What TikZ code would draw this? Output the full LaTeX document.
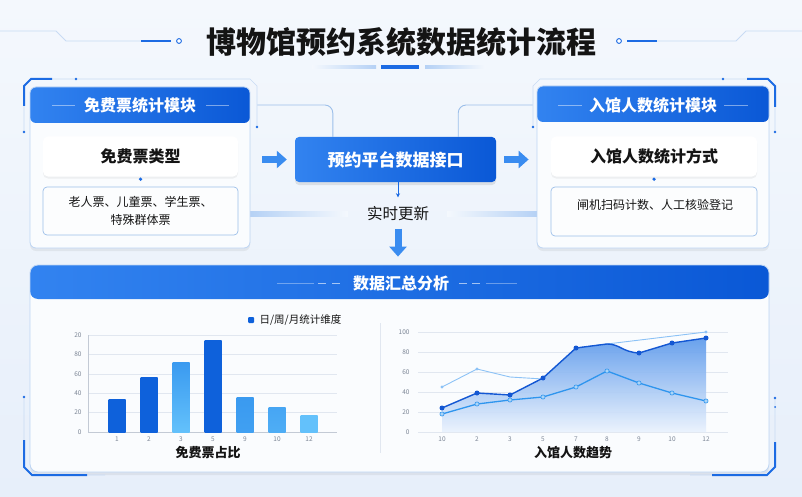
\documentclass[tikz,border=0pt]{standalone}
\usepackage{fontspec}
\setmainfont{Noto Sans CJK SC}
\usetikzlibrary{arrows.meta, positioning, shadows}
\definecolor{bgTop}{HTML}{F4F8FD}
\definecolor{bgBot}{HTML}{E7EFFA}
\definecolor{headL}{HTML}{3283F0}
\definecolor{headR}{HTML}{0A58D6}
\definecolor{frameBlue}{HTML}{BDD5F4}
\definecolor{decoBlue}{HTML}{1C6BE3}
\definecolor{faintBlue}{HTML}{C8DBF4}
\definecolor{bandBlue}{HTML}{B5D1F5}
\definecolor{listBlue}{HTML}{9CBFEA}
\definecolor{arrowBlue}{HTML}{3A8CF0}
\definecolor{inkBlack}{HTML}{141414}
\definecolor{tickGray}{HTML}{7C8696}
\definecolor{gridGray}{HTML}{E1E7F0}
\definecolor{barDark}{HTML}{0E61DB}
\definecolor{barMid}{HTML}{3A9AF0}
\definecolor{barLight}{HTML}{63C1FB}
\definecolor{lineDark}{HTML}{1357D3}
\definecolor{lineMid}{HTML}{2E95EE}
\definecolor{lineLight}{HTML}{8CC2F6}
\definecolor{areaTop}{HTML}{5A98EB}
\definecolor{areaBot}{HTML}{EAF2FD}

\begin{document}
\begin{tikzpicture}[x=1pt, y=-1pt,
  boxhead/.style={path picture={\shade[left color=headL, right color=headR] (path picture bounding box.north west) rectangle ([yshift=-#1]path picture bounding box.north east);}},
  module/.style={draw=frameBlue, line width=0.8pt, fill=white!55!bgTop, rounded corners=6pt, inner sep=0pt, drop shadow={opacity=0.12, shadow xshift=0pt, shadow yshift=-3pt}, boxhead=36pt},
  headtxt/.style={text=white, font=\bfseries\fontsize{16}{20}\selectfont},
  card/.style={fill=white, rounded corners=5pt, inner sep=0pt, drop shadow={opacity=0.10, shadow xshift=0pt, shadow yshift=-2pt}, text=inkBlack, font=\bfseries\fontsize{16}{20}\selectfont},
  listbox/.style={draw=listBlue, line width=0.7pt, fill=white!70!bgTop, rounded corners=4pt, inner sep=0pt, text=inkBlack, align=center, font=\fontsize{12}{18}\selectfont},
  api/.style={rounded corners=4pt, left color=headL, right color=headR, inner sep=0pt, text=white, font=\bfseries\fontsize{17}{20}\selectfont, drop shadow={opacity=0.18, shadow xshift=0pt, shadow yshift=-3pt}},
  link/.style={listBlue, line width=0.9pt, rounded corners=8pt},
  block/.style={-{Triangle[length=10pt, width=17pt]}, line width=7pt, arrowBlue},
  thinarrow/.style={-{Stealth[length=4pt, width=4pt]}, line width=0.8pt, decoBlue},
  frameline/.style={faintBlue, line width=0.6pt},
  bracket/.style={decoBlue, line width=2pt},
  tick/.style={font=\fontsize{6.5}{8}\selectfont, text=tickGray},
  grid/.style={gridGray, line width=0.6pt},
  caption/.style={font=\bfseries\fontsize{13}{16}\selectfont, text=inkBlack}]
\useasboundingbox (0,0) rectangle (802,497);
\shade[top color=bgTop, bottom color=bgBot] (0,0) rectangle (802,497);

% title
\node[font=\bfseries\fontsize{30}{36}\selectfont, text=inkBlack] (title) at (401,42) {博物馆预约系统数据统计流程};
\draw[frameline, line width=0.8pt] (0,31) -- (56,31) -- (66,41) -- (171,41);
\draw[decoBlue, line width=2pt] (141,41) -- (171,41);
\draw[decoBlue, line width=0.9pt, fill=white] (179,41) circle (2.4pt);
\draw[frameline, line width=0.8pt] (802,31) -- (746,31) -- (736,41) -- (627,41);
\draw[decoBlue, line width=2pt] (627,41) -- (657,41);
\draw[decoBlue, line width=0.9pt, fill=white] (619,41) circle (2.4pt);
\shade[left color=bgTop, right color=bandBlue] (312,66) rectangle (376,68.5);
\fill[decoBlue] (381,65.5) rectangle (419,69);
\shade[left color=bandBlue, right color=bgTop] (425,66) rectangle (486,68.5);

% module frames
\draw[frameline] (24,132) -- (24,86) -- (31,79) -- (250,79) -- (257,86) -- (257,127);
\draw[bracket] (24,106) -- (24,86) -- (31,79) -- (52,79);
\foreach \p in {(24,132), (76,79), (257,127)} \fill[decoBlue] \p circle (1.3pt);
\draw[frameline] (533,127) -- (533,86) -- (540,79) -- (768,79) -- (775,86) -- (775,132);
\draw[bracket] (747,79) -- (768,79) -- (775,86) -- (775,107);
\foreach \p in {(533,127), (723,79), (775,132)} \fill[decoBlue] \p circle (1.3pt);

% bands toward the update label
\shade[left color=bandBlue, right color=bgTop] (250,211) rectangle (348,216);
\shade[left color=bgTop, right color=bandBlue] (447,211) rectangle (537,216);

% free ticket module
\node[module, minimum width=220pt, minimum height=161pt] (freeMod) at (140,167.5) {};
\node[headtxt] (freeHead) at (140,105) {免费票统计模块};
\draw[white, opacity=0.45, line width=0.7pt] (52,105) -- (75,105) (206,105) -- (229,105);
\node[card, minimum width=195pt, minimum height=40pt] (freeType) at (140.5,156.5) {免费票类型};
\fill[decoBlue] ([yshift=-2.5pt]freeType.south) circle (1.8pt);
\node[listbox, minimum width=195pt, minimum height=48pt] (freeList) at (140.5,211) {老人票、儿童票、学生票、\\特殊群体票};

% visitor module
\node[module, minimum width=232pt, minimum height=162pt] (visitMod) at (653,167) {};
\node[headtxt] (visitHead) at (653,105) {入馆人数统计模块};
\draw[white, opacity=0.45, line width=0.7pt] (558,105) -- (582,105) (724,105) -- (748,105);
\node[card, minimum width=206pt, minimum height=40pt] (visitType) at (654,156.5) {入馆人数统计方式};
\fill[decoBlue] ([yshift=-2.5pt]visitType.south) circle (1.8pt);
\node[listbox, minimum width=206pt, minimum height=49pt] (visitList) at (654,211.5) {};
\node[font=\fontsize{12}{15}\selectfont, text=inkBlack] (visitWay) at (655,205) {闸机扫码计数、人工核验登记};

% platform interface
\node[api, minimum width=201pt, minimum height=45pt] (api) at (395.5,159.5) {预约平台数据接口};
\node[font=\fontsize{15.5}{18}\selectfont, text=inkBlack] (sync) at (398,214) {实时更新};
\draw[link] ([xshift=7pt]freeMod.east |- freeHead) -| ([xshift=38pt]api.north west);
\draw[link] ([xshift=-38pt]api.north east) |- ([xshift=-4pt]visitMod.west |- visitHead);
\draw[block] ([xshift=12pt]freeMod.east |- api.west) -- ([xshift=-8pt]api.west);
\draw[block] ([xshift=8pt]api.east) -- ([xshift=-8pt]visitMod.west |- api.east);
\draw[thinarrow] (api.south -| sync.north) -- ([yshift=6pt]sync.north);

% summary panel
\node[module, boxhead=34pt, rounded corners=8pt, minimum width=739pt, minimum height=207pt] (sumPanel) at (399.5,368.5) {};
\node[headtxt] (sumHead) at (401,283) {数据汇总分析};
\draw[block] ([yshift=-4pt]sync.south) -- ([yshift=8pt]sumPanel.north -| sync.south);
\draw[white, opacity=0.35, line width=0.8pt] (277,283) -- (314,283) (486,283) -- (517,283);
\draw[white, opacity=0.6, line width=0.8pt] (318,283) -- (326,283) (332,283) -- (340,283) (459,283) -- (467,283) (472,283) -- (480,283);
\draw[frameline] (24,397) -- (24,467) -- (32,475) -- (105,475);
\draw[bracket] (24,440) -- (24,467) -- (32,475) -- (87,475);
\fill[decoBlue] (24,397) circle (1.3pt);
\draw[frameline] (775,398) -- (775,467) -- (767,475) -- (690,475);
\draw[bracket] (775,442) -- (775,467) -- (767,475) -- (712,475);
\fill[decoBlue] (775,398) circle (1.3pt) (775,407) circle (1pt);

% bar chart
\foreach \v in {20,40,...,100} \draw[grid] (88,{432-0.97*\v}) -- (337,{432-0.97*\v});
\draw[gridGray!70!tickGray, line width=0.7pt] (88,335) -- (88,432) -- (337,432);
\foreach \v/\t in {0/0, 20/20, 40/40, 60/60, 80/80, 100/20} \node[tick, anchor=east] at (85,{432-0.97*\v}) {\t};
\foreach \x/\v/\c/\d in {117/34/barDark/barDark, 149/56/barDark/barDark, 181/72/barMid/barLight, 213/94/barDark/barDark, 245/36/barMid/barMid!85!barLight, 277/25/barMid!70!barLight/barMid!50!barLight, 309/17/barLight/barLight}
  \shade[top color=\c, bottom color=\d] ({\x-8.5},432) rectangle ({\x+8.5},{432-0.97*\v});
\foreach \x/\t in {117/1, 149/2, 181/3, 213/5, 245/9, 277/10, 309/12} \node[tick] at (\x,439) {\t};
\fill[barDark, rounded corners=1pt] (248,317) rectangle (254,323);
\node[font=\fontsize{10.5}{12}\selectfont, text=inkBlack, anchor=west] (legend) at (256,320) {日/周/月统计维度};
\node[caption] (freeShare) at (208,453) {免费票占比};
\draw[gridGray, line width=0.8pt] (380,323) -- (380,453);

% line chart
\foreach \v in {0,20,...,100} \draw[grid] (418,{432-\v}) -- (728,{432-\v});
\foreach \v in {0,20,...,100} \node[tick, anchor=east] at (413,{432-\v}) {\v};
\foreach \x/\t in {442/10, 477/2, 510/3, 543/5, 576/7, 607/8, 639/9, 672/10, 706/12} \node[tick] at (\x,439) {\t};
\shade[top color=areaTop, bottom color=areaBot, fill opacity=0.9] (442,432) -- (442,408) -- (477,393) -- (510,395) -- (543,378) -- (576,348) -- (607,344) .. controls (620,344) and (622,352) .. (639,353) -- (672,343) -- (706,338) -- (706,432) -- cycle;
\draw[lineLight, line width=0.9pt] (442,387) -- (477,369) -- (510,377) -- (543,379) -- (576,348) -- (607,344) -- (706,332);
\foreach \p in {(442,387), (477,369), (706,332)} \fill[lineLight] \p circle (1.6pt);
\draw[lineMid, line width=1.3pt] (442,414) -- (477,404) -- (510,400) -- (543,397) -- (576,387) -- (607,371) -- (639,383) -- (672,393) -- (706,401);
\foreach \p in {(442,414), (477,404), (510,400), (543,397), (576,387), (607,371), (639,383), (672,393), (706,401)} \filldraw[fill=white!60!lineMid, draw=lineMid, line width=0.6pt] \p circle (2.1pt);
\draw[lineDark, line width=1.4pt] (442,408) -- (477,393) -- (510,395) -- (543,378) -- (576,348) -- (607,344) .. controls (620,344) and (622,352) .. (639,353) -- (672,343) -- (706,338);
\foreach \p in {(442,408), (477,393), (510,395), (543,378), (576,348), (639,353), (672,343), (706,338)} \fill[lineDark] \p circle (2.5pt);
\node[caption] (visitTrend) at (573,453) {入馆人数趋势};
\end{tikzpicture}
\end{document}
